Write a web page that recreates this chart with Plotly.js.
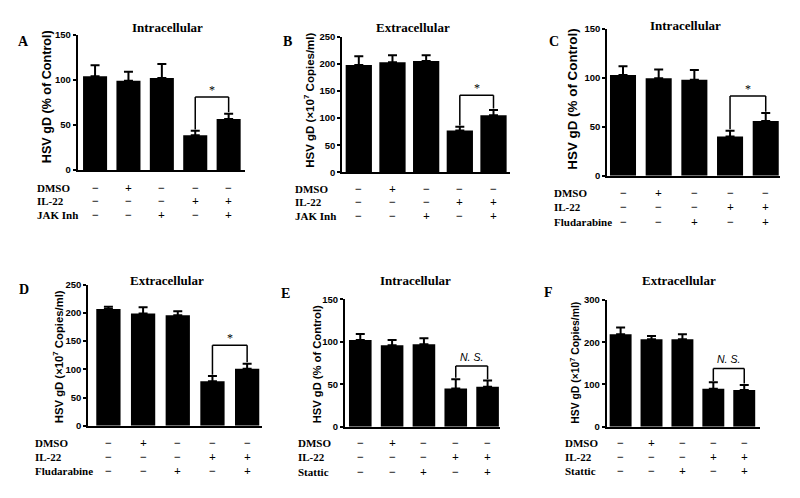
<!DOCTYPE html>
<html><head><meta charset="utf-8">
<script src="https://cdn.plot.ly/plotly-3.0.1.min.js"></script>
<style>html,body{margin:0;padding:0;background:#fff}#chart{width:800px;height:498px}</style>
</head><body><div id="chart"></div>
<script>
// ---- data ----
const conditions = ['Control', 'DMSO', 'Inhibitor', 'IL-22', 'IL-22 + Inhibitor'];
const dmsoSigns = ['−', '+', '−', '−', '−'];
const il22Signs = ['−', '−', '−', '+', '+'];
const inhSigns  = ['−', '−', '+', '−', '+'];

const panelLetters = ['A', 'B', 'C', 'D', 'E', 'F'];
const panelTitles = ['Intracellular', 'Extracellular', 'Intracellular', 'Extracellular', 'Intracellular', 'Extracellular'];
const inhibitorNames = ['JAK Inh', 'JAK Inh', 'Fludarabine', 'Fludarabine', 'Stattic', 'Stattic'];
const yTitleIntra = 'HSV gD (% of Control)';
const yTitleExtra = 'HSV gD (×10<sup>7</sup> Copies/ml)';
const yTitles = [yTitleIntra, yTitleExtra, yTitleIntra, yTitleExtra, yTitleIntra, yTitleExtra];

const valuesA = [104, 99, 102, 38.5, 56.5];
const errA    = [12, 10, 15.5, 5, 6];
const valuesB = [198, 203, 205, 77, 105];
const errB    = [16, 13, 11, 7, 10];
const valuesC = [103, 99.6, 98, 40, 56];
const errC    = [9, 9, 10, 6, 8];
const valuesD = [207, 199, 196, 79, 101];
const errD    = [4, 11, 7, 9, 9];
const valuesE = [102, 96, 97, 45, 47];
const errE    = [7, 6, 7, 11, 7.5];
const valuesF = [219, 207, 207, 90, 87];
const errF    = [16, 8, 12, 15, 12];

const sigLabels = ['*', '*', '*', '*', 'N. S.', 'N. S.'];
const sigLevels = [81, 142, 81.5, 142.5, 71.5, 138];
const yMax   = [150, 250, 150, 250, 150, 300];
const yDtick = [50, 50, 50, 50, 50, 100];

const allValues = [valuesA, valuesB, valuesC, valuesD, valuesE, valuesF];
const allErrs   = [errA, errB, errC, errD, errE, errF];

// ---- layout geometry (pixels) ----
const W = 800, H = 498;
const geo = [
  {ax0: 77.7,  ax1: 245,   yt: 34.7,  yb: 170,   xr: [-0.52, 4.49], bw: 0.72, ytx: 46.5,  yty: 96.7,  ts: 12.6, tx: 167,   ty: 27,    lx: 23,    ly: 42,    rows: [187.7, 201, 215],     labX: 35},
  {ax0: 342.3, ax1: 510,   yt: 36.7,  yb: 172.3, xr: [-0.49, 4.49], bw: 0.78, ytx: 309,   yty: 100.8, ts: 11.5, tx: 413,   ty: 27,    lx: 287,   ly: 42,    rows: [189, 202, 216],       labX: 293},
  {ax0: 607.3, ax1: 780,   yt: 29,    yb: 175.7, xr: [-0.44, 4.40], bw: 0.73, ytx: 573,   yty: 99.7,  ts: 13.4, tx: 685,   ty: 26,    lx: 554,   ly: 42,    rows: [192.7, 207.3, 221.7], labX: 551.7},
  {ax0: 88.3,  ax1: 261.7, yt: 284.7, yb: 425.7, xr: [-0.58, 4.42], bw: 0.70, ytx: 57.5,  yty: 356.7, ts: 11.3, tx: 166.7, ty: 280,   lx: 24,    ly: 289,   rows: [443.3, 457.3, 471],   labX: 33.3},
  {ax0: 345,   ax1: 500,   yt: 299.3, yb: 426.7, xr: [-0.48, 4.39], bw: 0.71, ytx: 317.3, yty: 364,   ts: 11.2, tx: 415,   ty: 280.7, lx: 285.7, ly: 293.3, rows: [442.7, 457.3, 471.7], labX: 295.7},
  {ax0: 606.7, ax1: 760,   yt: 300,   yb: 426.7, xr: [-0.45, 4.51], bw: 0.71, ytx: 574.3, yty: 362.5, ts: 10.4, tx: 679.3, ty: 280,   lx: 548.3, ly: 292.3, rows: [442.7, 456.7, 471],   labX: 563.3}
];

const SERIF = '"Liberation Serif", "Times New Roman", serif';
const SANS = '"Liberation Sans", Arial, sans-serif';
const px = x => x / W;
const py = y => 1 - y / H;

const traces = [];
const annotations = [];
const shapes = [];
const layout = {
  width: W, height: H,
  margin: {l: 0, r: 0, t: 0, b: 0},
  paper_bgcolor: '#fff', plot_bgcolor: '#fff',
  showlegend: false,
  font: {family: SANS, color: '#000'}
};

geo.forEach((g, i) => {
  const n = i + 1;
  const xa = n === 1 ? 'x' : 'x' + n;
  const ya = n === 1 ? 'y' : 'y' + n;
  const vals = allValues[i], errs = allErrs[i];
  traces.push({
    type: 'bar', x: conditions, y: vals, xaxis: xa, yaxis: ya,
    width: g.bw,
    marker: {color: '#000', line: {width: 0}},
    error_y: {type: 'data', symmetric: false, array: errs, arrayminus: errs.map(() => 0),
              color: '#000', thickness: 2, width: 4.5},
    hoverinfo: 'x+y'
  });
  layout['xaxis' + (n === 1 ? '' : n)] = {
    domain: [px(g.ax0), px(g.ax1)], anchor: ya, type: 'category',
    range: g.xr, showticklabels: false, ticks: '', showgrid: false, zeroline: false,
    showline: true, linecolor: '#000', linewidth: 2, fixedrange: true
  };
  layout['yaxis' + (n === 1 ? '' : n)] = {
    domain: [py(g.yb), py(g.yt)], anchor: xa,
    range: [0, yMax[i]], dtick: yDtick[i], tick0: 0,
    showgrid: false, zeroline: false, showline: true, linecolor: '#000', linewidth: 2,
    ticks: 'outside', ticklen: 3, tickwidth: 2, tickcolor: '#000',
    tickfont: {family: SANS, size: 9.5, color: '#000', weight: 'bold'},
    fixedrange: true
  };
  // y-axis title (placed as rotated text beside the axis)
  annotations.push({xref: 'paper', yref: 'paper', x: px(g.ytx), y: py(g.yty), xanchor: 'center', yanchor: 'middle',
    textangle: -90, text: '<b>' + yTitles[i] + '</b>', showarrow: false,
    font: {family: SANS, size: g.ts, color: '#000'}});
  // panel title
  annotations.push({xref: 'paper', yref: 'paper', x: px(g.tx), y: py(g.ty), xanchor: 'center', yanchor: 'middle',
    text: '<b>' + panelTitles[i] + '</b>', showarrow: false, font: {family: SERIF, size: 13, color: '#000'}});
  // panel letter
  annotations.push({xref: 'paper', yref: 'paper', x: px(g.lx), y: py(g.ly), xanchor: 'center', yanchor: 'middle',
    text: '<b>' + panelLetters[i] + '</b>', showarrow: false, font: {family: SERIF, size: 14, color: '#000'}});
  // treatment table
  const rowLabels = ['DMSO', 'IL-22', inhibitorNames[i]];
  const rowSigns = [dmsoSigns, il22Signs, inhSigns];
  rowLabels.forEach((lab, r) => {
    annotations.push({xref: 'paper', yref: 'paper', x: px(g.labX), y: py(g.rows[r]), xanchor: 'left', yanchor: 'middle',
      text: '<b>' + lab + '</b>', showarrow: false, font: {family: SERIF, size: 11, color: '#000'}});
    rowSigns[r].forEach((s, k) => {
      annotations.push({xref: xa, yref: 'paper', x: k, y: py(g.rows[r]), xanchor: 'center', yanchor: 'middle',
        text: '<b>' + s + '</b>', showarrow: false, font: {family: SERIF, size: 12, color: '#000'}});
    });
  });
  // significance bracket between bars 4 and 5
  const lvl = sigLevels[i];
  const gap = yMax[i] * 0.01;
  const lineStyle = {color: '#000', width: 1.5};
  shapes.push({type: 'line', xref: xa, yref: ya, x0: 3, x1: 3, y0: vals[3] + errs[3] + gap, y1: lvl, line: lineStyle});
  shapes.push({type: 'line', xref: xa, yref: ya, x0: 3, x1: 4, y0: lvl, y1: lvl, line: lineStyle});
  shapes.push({type: 'line', xref: xa, yref: ya, x0: 4, x1: 4, y0: vals[4] + errs[4] + gap, y1: lvl, line: lineStyle});
  const isNS = sigLabels[i] !== '*';
  annotations.push({xref: xa, yref: ya, x: 3.5, y: lvl, xanchor: 'center', yanchor: 'bottom', yshift: isNS ? 1 : -2,
    text: isNS ? '<i>' + sigLabels[i] + '</i>' : sigLabels[i], showarrow: false,
    font: {family: isNS ? SANS : SERIF, size: isNS ? 10.5 : 12, color: '#000'}});
});

layout.annotations = annotations;
layout.shapes = shapes;

Plotly.newPlot('chart', traces, layout, {displayModeBar: false, responsive: false});
</script>
</body></html>
